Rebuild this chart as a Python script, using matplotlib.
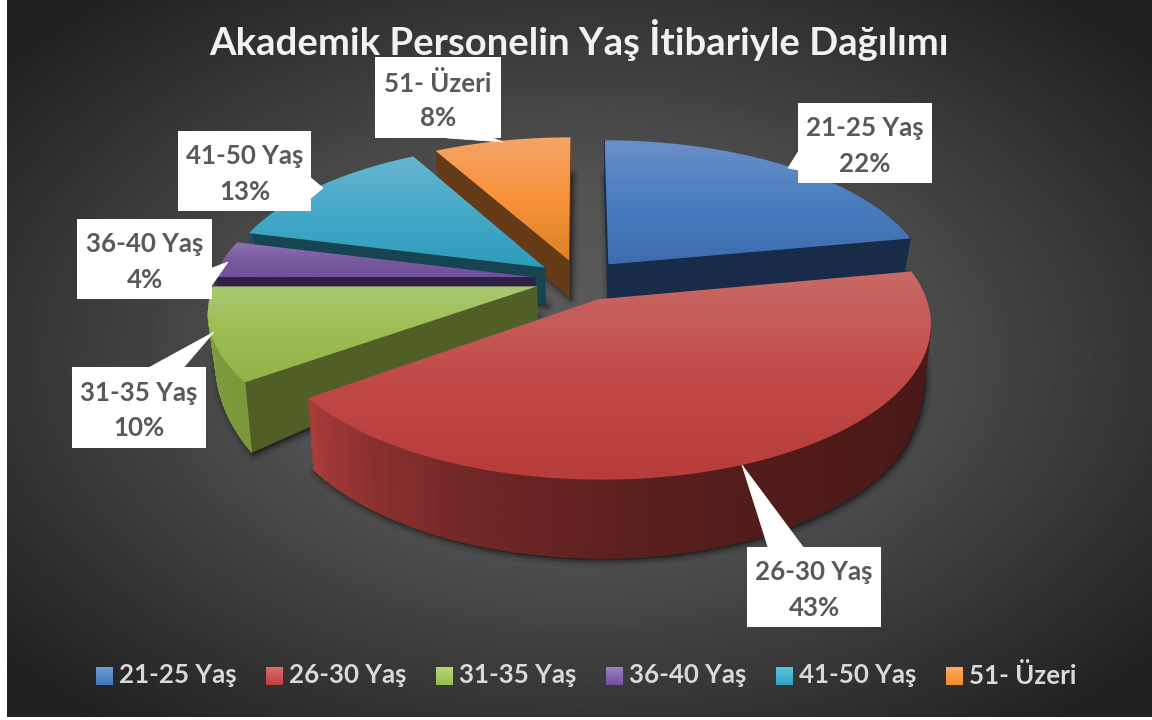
import numpy as np
import matplotlib
matplotlib.use("Agg")
import matplotlib.pyplot as plt
from matplotlib.colors import LinearSegmentedColormap, to_rgb
from matplotlib.patches import Polygon, Rectangle
from matplotlib.path import Path

# chart data
categories = ['21-25 Yaş', '26-30 Yaş', '31-35 Yaş', '36-40 Yaş', '41-50 Yaş', '51- Üzeri']
shares = [22, 43, 10, 4, 13, 8]
title = 'Akademik Personelin Yaş İtibariyle Dağılımı'

# colours per slice: top gradient, radial wall, rim wall (start -> end angle)
top_colors = [['#6b90c8', '#4a7dbf', '#3b6dae'],
              ['#c96a66', '#c04a47', '#b83c3a'],
              ['#aac870', '#9dbd52', '#93b348'],
              ['#9075b3', '#7a5aa2', '#6f5096'],
              ['#66b5d0', '#45a9c8', '#2f9cba'],
              ['#f5a468', '#f8923a', '#dc8327']]
wall_colors = ['#182c4a', '#7a2522', '#4f5f26', '#2f1f45', '#164450', '#653a17']
rim_colors = [['#182c4a', '#182c4a'], ['#4a1917', '#a83c3a'], ['#7c9a3c', '#85a540'],
              ['#3c2a58', '#3c2a58'], ['#1e5566', '#1e5566'], ['#653a17', '#653a17']]
swatch_colors = [['#6f9bd6', '#3f78bd'], ['#d76f6b', '#c23f3c'], ['#b5d878', '#99bd4c'],
                 ['#9c80c0', '#7350a0'], ['#5cc3e0', '#33a3c4'], ['#ffaa60', '#f08c2c']]

# pie geometry (pixels on a 1152x720 canvas)
CX, CY = 580, 280
RX, RY = 322, 147
PERSP = 6.67
EXPLODE = 0.14
DRAW_ORDER = [5, 0, 4, 3, 2, 1]

# label boxes (left, top, right, bottom) and callout tips
boxes = [(798, 103, 932, 183), (747, 547, 881, 627), (72, 367, 206, 448),
         (77, 219, 212, 299), (178, 131, 311, 211), (375, 57, 501, 138)]
callouts = [[(788, 168), (798, 152), (798, 170)], [(742, 465), (768, 547), (803, 547)],
            [(214, 332), (150, 367), (184, 367)], [(228, 262), (212, 268), (212, 285)],
            [(323, 188), (311, 178), (311, 198)], [(503, 142), (447, 138), (493, 138)]]

FONT = 'Lato'
LABEL_SIZE = 18.6


def project(u, v):
    s = PERSP / (PERSP - v)
    return CX + RX * u * s, CY + RY * v * s


def drop(u, v):
    # top point -> same point on the underside of the slab
    x, y = project(u, v)
    h = np.interp(v, [-0.3, 0.0, 0.65, 1.15], [36, 37, 71, 79])
    return x + (CX - x) * 0.02, y + h


def gradient(ax, patch, colors, y0, y1, zorder):
    cmap = LinearSegmentedColormap.from_list('g', colors)
    xs = patch.get_path().vertices[:, 0]
    im = ax.imshow(np.linspace(0, 1, 128)[:, None], cmap=cmap, aspect='auto',
                   extent=(xs.min(), xs.max(), y1, y0), zorder=zorder, interpolation='bilinear')
    im.set_clip_path(patch)


def draw_slice(ax, i, t0, t1, z):
    mid = (t0 + t1) / 2
    au, av = EXPLODE * np.sin(mid), -EXPLODE * np.cos(mid)
    theta = np.linspace(t0, t1, 90)
    us = au + np.sin(theta)
    vs = av - np.cos(theta)
    top = np.array([project(au, av)] + [project(a, b) for a, b in zip(us, vs)])
    top_path = Path(top)

    # soft shadow round the whole slab
    under = np.array([drop(au, av)] + [drop(a, b) for a, b in zip(us, vs)])
    for lw, alpha in [(10, 0.06), (6, 0.10), (3, 0.16)]:
        ax.add_patch(Polygon(under + [2, 2], closed=True, fc='k', ec='k', lw=lw, alpha=alpha,
                             zorder=z, joinstyle='round'))

    def visible(p):
        return not top_path.contains_point((p[0], p[1] + 2.5))

    # flat radial walls
    for k in (1, -1):
        ru, rv = us[0 if k == 1 else -1], vs[0 if k == 1 else -1]
        quad = [project(au, av), project(ru, rv), drop(ru, rv), drop(au, av)]
        if visible(np.mean(quad[:2], axis=0)):
            ax.add_patch(Polygon(quad, closed=True, fc=wall_colors[i], ec=wall_colors[i],
                                 lw=0.4, zorder=z + 0.1))

    # curved wall, shaded along the angle
    c0, c1 = np.array(to_rgb(rim_colors[i][0])), np.array(to_rgb(rim_colors[i][1]))
    for j in range(len(theta) - 1):
        quad = [project(us[j], vs[j]), project(us[j + 1], vs[j + 1]),
                drop(us[j + 1], vs[j + 1]), drop(us[j], vs[j])]
        if visible(np.mean(quad[:2], axis=0)):
            col = c0 + (c1 - c0) * (j / (len(theta) - 2)) ** 3.5
            ax.add_patch(Polygon(quad, closed=True, fc=col, ec=col, lw=0.5, zorder=z + 0.2))

    # top face
    face = Polygon(top, closed=True, fc='none', ec='none', zorder=z + 0.3)
    ax.add_patch(face)
    gradient(ax, face, top_colors[i], top[:, 1].min(), top[:, 1].max(), z + 0.3)


def main():
    fig = plt.figure(figsize=(11.52, 7.2), dpi=100)
    ax = fig.add_axes([0, 0, 1, 1])
    ax.set_xlim(0, 1152)
    ax.set_ylim(720, 0)
    ax.axis('off')

    # dark radial background
    yy, xx = np.mgrid[0:720, 0:1152]
    dist = np.hypot((xx - 576) / 760, (yy - 360) / 480)
    bg = np.interp(dist, [0, 0.35, 1.0], [0.36, 0.33, 0.125])
    ax.imshow(bg, cmap='gray', vmin=0, vmax=1, extent=(7, 1152, 717, 0), aspect='auto', zorder=0)

    # slices, angles run clockwise from the top
    edges = np.cumsum([0] + shares) / sum(shares) * 2 * np.pi
    for z, i in enumerate(DRAW_ORDER):
        draw_slice(ax, i, edges[i], edges[i + 1], 1 + z)

    ax.text(579, 40, title, color='#f2f2f2', fontsize=27.5, fontweight='bold', family=FONT,
            ha='center', va='center', zorder=20)

    # data labels with callouts
    for name, share, box, tip in zip(categories, shares, boxes, callouts):
        x0, y0, x1, y1 = box
        ax.add_patch(Rectangle((x0, y0), x1 - x0, y1 - y0, fc='white', ec='none', zorder=21))
        ax.add_patch(Polygon(tip, closed=True, fc='white', ec='white', lw=0.5, zorder=21))
        ax.text((x0 + x1) / 2, (y0 + y1) / 2 + 3, f'{name}\n{share}%', color='#595959',
                fontsize=LABEL_SIZE, fontweight='bold', family=FONT, ha='center', va='center',
                linespacing=1.55, zorder=22)

    # legend along the bottom
    for k, name in enumerate(categories):
        x = 96 + 170 * k
        sw = Rectangle((x, 667), 17, 18, fc='none', ec='none', zorder=21)
        ax.add_patch(sw)
        cmap = LinearSegmentedColormap.from_list('s', swatch_colors[k])
        im = ax.imshow(np.linspace(0, 1, 32)[:, None], cmap=cmap, aspect='auto',
                       extent=(x, x + 17, 685, 667), zorder=21)
        im.set_clip_path(sw)
        ax.text(x + 23, 675, name, color='#d9d9d9', fontsize=LABEL_SIZE, fontweight='bold',
                family=FONT, ha='left', va='center', zorder=21)

    ax.set_xlim(0, 1152)
    ax.set_ylim(720, 0)
    fig.savefig('out.png', dpi=100, facecolor='white')


if __name__ == "__main__":
    main()
